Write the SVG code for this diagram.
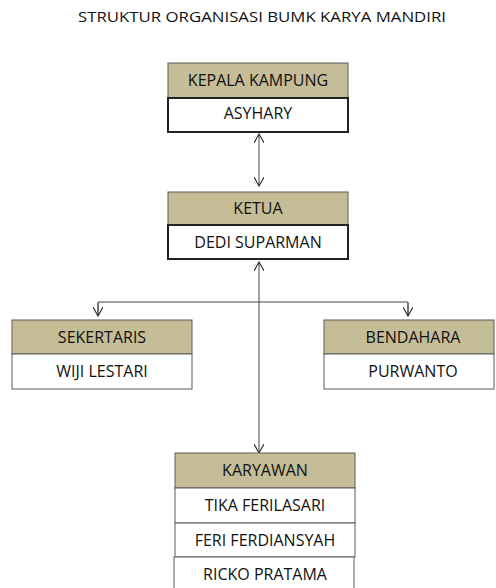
<svg xmlns="http://www.w3.org/2000/svg" width="496" height="588" viewBox="0 0 496 588">
<style>
.hd{fill:#c4bd97;stroke:#5a5a5a;stroke-width:1}
.wb{fill:#fff;stroke:#5a5a5a;stroke-width:1}
.wk{fill:#fff;stroke:#222;stroke-width:2}
text{font-family:"Open Sans","Liberation Sans",sans-serif;font-size:16px;fill:#111;text-anchor:middle}
.ln{stroke:#444;stroke-width:1;fill:none}
</style>
<defs>
<marker id="ah" viewBox="0 0 10 10" refX="9" refY="5" markerWidth="10" markerHeight="10" markerUnits="userSpaceOnUse" orient="auto-start-reverse">
<path d="M0,0 L9,5 L0,10" fill="none" stroke="#333" stroke-width="1.2"/>
</marker>
</defs>
<text x="262" y="22" style="font-size:14.5px" textLength="368" lengthAdjust="spacingAndGlyphs">STRUKTUR ORGANISASI BUMK KARYA MANDIRI</text>
<g id="connectors">
<line class="ln" x1="259" y1="134" x2="259" y2="186" marker-start="url(#ah)" marker-end="url(#ah)"/>
<line class="ln" x1="259" y1="262" x2="259" y2="453" marker-start="url(#ah)" marker-end="url(#ah)"/>
<polyline class="ln" points="98,315 98,302 408,302 408,315"/>
<line class="ln" x1="98" y1="303" x2="98" y2="316" marker-end="url(#ah)"/>
<line class="ln" x1="408" y1="303" x2="408" y2="316" marker-end="url(#ah)"/>
</g>
<g id="kepala">
<rect class="hd" x="168" y="63" width="180" height="35"/>
<text x="258" y="86">KEPALA KAMPUNG</text>
<rect class="wk" x="168" y="98" width="180" height="34"/>
<text x="258" y="119">ASYHARY</text>
</g>
<g id="ketua">
<rect class="hd" x="168" y="192" width="180" height="33"/>
<text x="258" y="214">KETUA</text>
<rect class="wk" x="168" y="225" width="180" height="34"/>
<text x="258" y="248">DEDI SUPARMAN</text>
</g>
<g id="sekertaris">
<rect class="hd" x="12" y="320" width="180" height="34"/>
<text x="102" y="343">SEKERTARIS</text>
<rect class="wb" x="12" y="354" width="180" height="35"/>
<text x="102" y="377">WIJI LESTARI</text>
</g>
<g id="bendahara">
<rect class="hd" x="324" y="320" width="170" height="34"/>
<text x="413" y="343">BENDAHARA</text>
<rect class="wb" x="324" y="354" width="170" height="35"/>
<text x="413" y="377">PURWANTO</text>
</g>
<g id="karyawan">
<rect class="hd" x="175" y="453" width="180" height="35"/>
<text x="265" y="476">KARYAWAN</text>
<rect class="wb" x="175" y="488" width="180" height="35"/>
<text x="265" y="511">TIKA FERILASARI</text>
<rect class="wb" x="175" y="523" width="180" height="34"/>
<text x="265" y="546">FERI FERDIANSYAH</text>
<rect class="wb" x="174" y="557" width="180" height="35"/>
<text x="265" y="580">RICKO PRATAMA</text>
</g>
</svg>
